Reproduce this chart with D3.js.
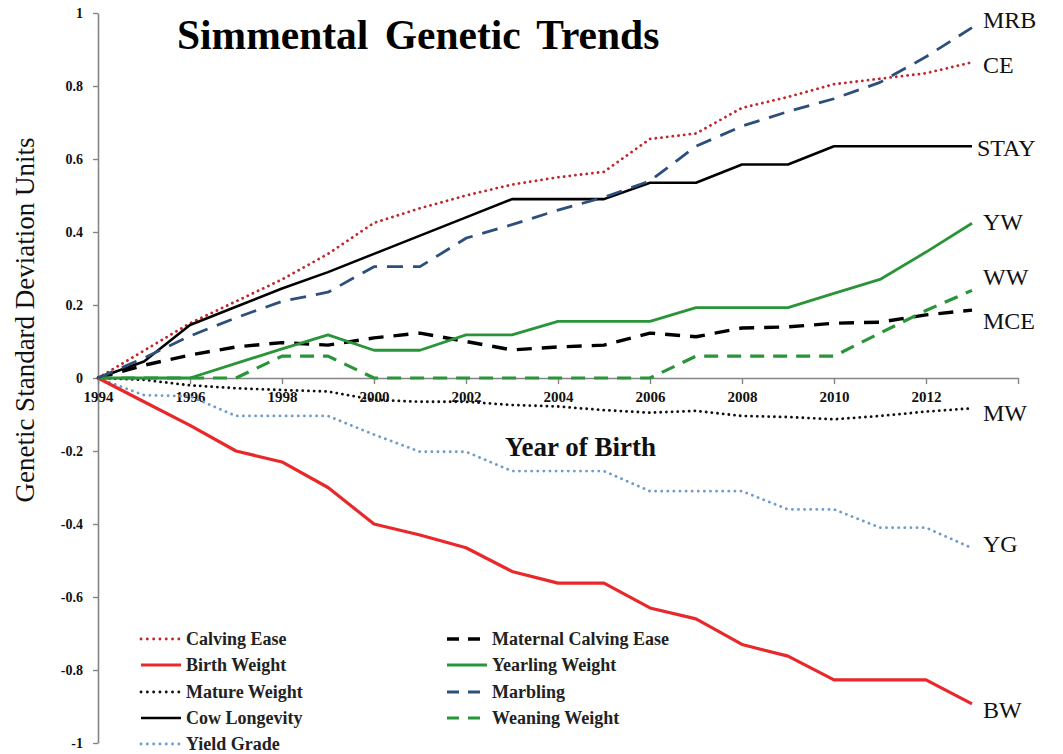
<!DOCTYPE html>
<html>
<head>
<meta charset="utf-8">
<script src="https://cdn.jsdelivr.net/npm/d3@7/dist/d3.min.js"></script>
<style>
  html, body { margin: 0; padding: 0; background: #ffffff; }
  svg { display: block; }
  text { font-family: "Liberation Serif", "Times New Roman", serif; }
</style>
</head>
<body>
<div id="chart"></div>
<script>
// ---------------- DATA ----------------
const years = [1994,1995,1996,1997,1998,1999,2000,2001,2002,2003,2004,2005,2006,2007,2008,2009,2010,2011,2012,2013];
const xTickYears = [1994,1996,1998,2000,2002,2004,2006,2008,2010,2012,2014];
const xTickLabels = ["1994","1996","1998","2000","2002","2004","2006","2008","2010","2012",""];
const yTicks = [-1,-0.8,-0.6,-0.4,-0.2,0,0.2,0.4,0.6,0.8,1];
const yTickLabels = ["-1","-0.8","-0.6","-0.4","-0.2","0","0.2","0.4","0.6","0.8","1"];

const calvingEase      = [0,0.075,0.15,0.21,0.27,0.34,0.425,0.465,0.50,0.53,0.55,0.565,0.655,0.67,0.74,0.77,0.805,0.82,0.835,0.865];
const birthWeight      = [0,-0.065,-0.13,-0.20,-0.23,-0.30,-0.40,-0.43,-0.465,-0.53,-0.562,-0.562,-0.63,-0.66,-0.73,-0.762,-0.827,-0.827,-0.827,-0.893];
const matureWeight     = [0,-0.005,-0.02,-0.028,-0.033,-0.037,-0.06,-0.065,-0.065,-0.074,-0.078,-0.088,-0.095,-0.09,-0.104,-0.107,-0.113,-0.104,-0.092,-0.083];
const cowLongevity     = [0,0.045,0.145,0.195,0.245,0.29,0.34,0.39,0.44,0.49,0.49,0.49,0.535,0.535,0.585,0.585,0.635,0.635,0.635,0.635];
const yieldGrade       = [0,-0.047,-0.05,-0.104,-0.104,-0.104,-0.155,-0.202,-0.202,-0.255,-0.255,-0.255,-0.31,-0.31,-0.31,-0.36,-0.36,-0.41,-0.41,-0.466];
const maternalCE       = [0,0.035,0.063,0.085,0.097,0.09,0.11,0.123,0.10,0.077,0.085,0.09,0.123,0.113,0.137,0.14,0.15,0.153,0.173,0.186];
const yearlingWeight   = [0,0,0,0.04,0.08,0.118,0.076,0.076,0.118,0.118,0.155,0.155,0.155,0.193,0.193,0.193,0.232,0.27,0.345,0.424];
const marbling         = [0,0.055,0.115,0.165,0.21,0.235,0.305,0.305,0.383,0.42,0.46,0.495,0.54,0.635,0.69,0.73,0.765,0.81,0.88,0.96];
const weaningWeight    = [0,0,0,0,0.06,0.06,0,0,0,0,0,0,0,0.06,0.06,0.06,0.06,0.123,0.185,0.24];

const seriesNames  = ["Calving Ease","Birth Weight","Mature Weight","Cow Longevity","Yield Grade","Maternal Calving Ease","Yearling Weight","Marbling","Weaning Weight"];
const seriesShort  = ["CE","BW","MW","STAY","YG","MCE","YW","MRB","WW"];
const seriesValues = [calvingEase,birthWeight,matureWeight,cowLongevity,yieldGrade,maternalCE,yearlingWeight,marbling,weaningWeight];

const titleText = "Simmental Genetic Trends";
const xTitle = "Year of Birth";
const yTitle = "Genetic Standard Deviation Units";

// ---------------- STYLES ----------------
const styles = [
  {color:"#c0272d", width:2.8, dash:"0.1 5.6", cap:"round", labelDy: 3},   // CE
  {color:"#e8282b", width:3.2, dash:null,       cap:"butt",  labelDy: 6},   // BW
  {color:"#111111", width:2.8, dash:"0.1 5.6", cap:"round", labelDy: 5},   // MW
  {color:"#000000", width:2.6, dash:null,       cap:"butt",  labelDy: 2},   // STAY
  {color:"#6f9cc9", width:2.8, dash:"0.1 6",   cap:"round", labelDy: -4},  // YG
  {color:"#000000", width:3.4, dash:"15 10",    cap:"butt",  labelDy: 11},  // MCE
  {color:"#2a9438", width:2.8, dash:null,       cap:"butt",  labelDy: -1},  // YW
  {color:"#2c4f7c", width:2.8, dash:"16 10",    cap:"butt",  labelDy: -8},  // MRB
  {color:"#2a9438", width:3.2, dash:"14 9",     cap:"butt",  labelDy: -13}  // WW
];

// ---------------- CHART ----------------
const W = 1063, H = 754;
const svg = d3.select("#chart").append("svg").attr("width", W).attr("height", H);
svg.append("rect").attr("width", W).attr("height", H).attr("fill", "#fff");

const x = d3.scaleLinear().domain([1994, 2014]).range([98, 1018]);
const y = d3.scaleLinear().domain([-1, 1]).range([743, 13]);

const axisColor = "#858585";

// Y axis
const yAxis = svg.append("g").attr("transform", `translate(${x(1994)},0)`)
  .call(d3.axisLeft(y).tickValues(yTicks).tickSize(5).tickSizeOuter(0).tickPadding(10)
        .tickFormat((d,i) => yTickLabels[i]));
yAxis.select(".domain").attr("stroke", axisColor).attr("stroke-width", 1.6);
yAxis.selectAll(".tick line").attr("stroke", axisColor).attr("stroke-width", 1.4);
yAxis.selectAll(".tick text").attr("font-family", "Liberation Serif, serif")
  .attr("font-size", 14).attr("font-weight", "bold").attr("fill", "#111");

// X axis
const xAxis = svg.append("g").attr("transform", `translate(0,${y(0)})`)
  .call(d3.axisBottom(x).tickValues(xTickYears).tickSize(6).tickSizeOuter(0).tickPadding(7)
        .tickFormat((d,i) => xTickLabels[i]));
xAxis.select(".domain").attr("stroke", axisColor).attr("stroke-width", 1.6);
xAxis.selectAll(".tick line").attr("stroke", axisColor).attr("stroke-width", 1.4);
xAxis.selectAll(".tick text").attr("font-family", "Liberation Serif, serif")
  .attr("font-size", 15).attr("font-weight", "bold").attr("fill", "#111");

// Lines
const line = d3.line().x((d,i) => x(years[i])).y(d => y(d));
const drawOrder = [4,2,1,0,3,5,8,6,7];
drawOrder.forEach(k => {
  const s = styles[k];
  svg.append("path").datum(seriesValues[k])
    .attr("d", line)
    .attr("fill", "none")
    .attr("stroke", s.color)
    .attr("stroke-width", s.width)
    .attr("stroke-linecap", s.cap)
    .attr("stroke-linejoin", "round")
    .attr("stroke-dasharray", s.dash);
});

// End labels
seriesValues.forEach((vals, k) => {
  const last = vals[vals.length - 1];
  svg.append("text")
    .attr("x", x(years[years.length - 1]) + (seriesShort[k] === "STAY" ? 5 : 11))
    .attr("y", y(last) + styles[k].labelDy)
    .attr("dominant-baseline", "central")
    .attr("font-size", 24)
    .attr("fill", "#111")
    .text(seriesShort[k]);
});

// Title
svg.append("text").attr("x", 177).attr("y", 49)
  .attr("font-size", 41.5).attr("font-weight", "bold").attr("word-spacing", 6).attr("fill", "#000")
  .text(titleText);

// X title
svg.append("text").attr("x", 505).attr("y", 456)
  .attr("font-size", 27).attr("font-weight", "bold").attr("fill", "#111")
  .text(xTitle);

// Y title
svg.append("text").attr("transform", "translate(34,320) rotate(-90)")
  .attr("text-anchor", "middle")
  .attr("font-size", 27).attr("fill", "#111")
  .text(yTitle);

// Legend
const legendCols = [[0,1,2,3,4],[5,6,7,8]];
const colX = [141, 447];
const rowY = [639, 665, 692, 718, 744];
legendCols.forEach((col, ci) => {
  col.forEach((k, ri) => {
    const s = styles[k];
    const gy = rowY[ri];
    svg.append("line")
      .attr("x1", colX[ci]).attr("x2", colX[ci] + 40)
      .attr("y1", gy).attr("y2", gy)
      .attr("stroke", s.color).attr("stroke-width", s.width)
      .attr("stroke-linecap", s.cap)
      .attr("stroke-dasharray", s.dash ? (s.cap === "round" ? "0.1 6.2" : "12 9") : null);
    svg.append("text")
      .attr("x", colX[ci] + 45).attr("y", gy)
      .attr("dominant-baseline", "central")
      .attr("font-size", 18).attr("font-weight", "bold").attr("fill", "#222")
      .text(seriesNames[k]);
  });
});
</script>
</body>
</html>
